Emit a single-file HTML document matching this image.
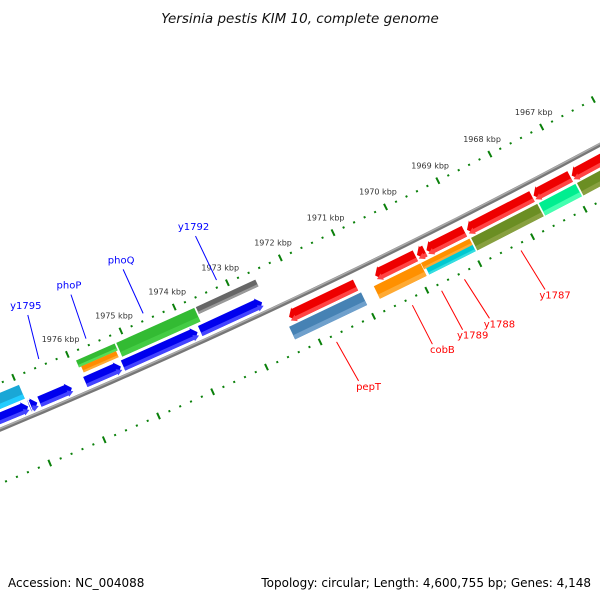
<!DOCTYPE html>
<html><head><meta charset="utf-8"><style>
html,body{margin:0;padding:0;background:#fff}
svg{display:block}
text{font-family:"DejaVu Sans","Liberation Sans",sans-serif}
</style></head><body>
<svg id="chart" width="600" height="600" viewBox="0 0 600 600">
<text x="300" y="23" text-anchor="middle" font-size="13.5" font-style="italic" fill="#111">Yersinia pestis KIM 10, complete genome</text>
<g id="ticks"></g>
<g id="backbone"></g>
<g id="genes"></g>
<g id="labels"></g>
<text x="8" y="587" font-size="12" fill="#000">Accession: NC_004088</text>
<text x="591" y="587" font-size="12" fill="#000" text-anchor="end">Topology: circular; Length: 4,600,755 bp; Genes: 4,148</text>
</svg>
<script>
// ---- data ----
const tickLabelKbp = [1967,1968,1969,1970,1971,1972,1973,1974,1975,1976];
const geneNames  = ["g-left1","y1795","g-small","g-b3","g-b4","g-b5","g-b6","g-cyan","phoP","phoP-o","phoQ","y1792",
                    "pepT","g-r2","g-r3","g-r4","g-r5","g-r6","g-r7","g-steel","cobB","y1788","y1789","y1787","g-spring","g-olive2"];
const geneStart  = [1978.2,1976.93,1976.95,1976.77,1975.92,1975.22,1973.78,1978.2,1975.92,1975.88,1975.17,1973.68,
                    1972.31,1970.69,1969.9,1969.72,1968.95,1967.68,1966.95,1972.38,1970.79,1969.9,1969.86,1968.95,1967.66,1966.93];
const geneEnd    = [1976.95,1976.78,1976.93,1976.14,1975.23,1973.8,1972.59,1976.95,1975.17,1975.2,1973.68,1972.53,
                    1971.03,1969.9,1969.72,1968.97,1967.68,1966.95,1965.4,1971.0,1969.88,1968.95,1968.95,1967.66,1966.93,1965.4];
const geneStrand = [1,1,1,1,1,1,1,1,1,1,1,1, -1,-1,-1,-1,-1,-1,-1,-1,-1,-1,-1,-1,-1,-1];
const geneArrow  = [1,1,1,1,1,1,1,0,0,0,0,0, 1,1,1,1,1,1,1,0,0,0,0,0,0,0];
const geneTrack  = ["f1","f1","f1","f1","f1","f1","f1","f2","f2a","f2b","f2","f2a",
                    "r1","r1","r1","r1","r1","r1","r1","r2","r2","r2a","r2b","r2","r2","r2"];
const geneColor  = ["#0000ee","#0000ee","#0000ee","#0000ee","#0000ee","#0000ee","#0000ee","#1aa7d6","#33bb33","#ff8c00","#33bb33","#666666",
                    "#ee0000","#ee0000","#ee0000","#ee0000","#ee0000","#ee0000","#ee0000","#4682b4","#ff9000","#ff9000","#00c8d0","#6b8e23","#00ee90","#6b8e23"];
const geneLight  = ["#4444ff","#4444ff","#4444ff","#4444ff","#4444ff","#4444ff","#4444ff","#22ccff","#55dd55","#ffaa33","#44cc44","#999999",
                    "#ff4444","#ff4444","#ff4444","#ff4444","#ff4444","#ff4444","#ff4444","#6fa0cc","#ffaa33","#ffaa33","#33dde0","#88a040","#44ffb0","#88a040"];
const labelNames = ["y1795","phoP","phoQ","y1792","pepT","cobB","y1789","y1788","y1787"];
const labelKbp   = [1976.48,1975.6,1974.53,1973.15,1971.75,1970.33,1969.78,1969.35,1968.28];
const labelStrand= [1,1,1,1,-1,-1,-1,-1,-1];
const tickStart = 1965, tickEnd = 1979;

// ---- layout (label leader-line lean, px) ----
const labelLean = [-11,-15,-20,-21,22,20,21,25,24];

// ---- geometry ----
const CX=-2618, CY=-5857, R=6810, A0=66.62, DEG=0.495;
const trackV = {f1:[-16,-5], f2:[-34,-19], f2a:[-34,-26.5], f2b:[-26.5,-20],
                r1:[8,20], r2:[23,37], r2a:[23,30], r2b:[30,37]};
function P(k,v){const a=(A0+(k-1976)*DEG)*Math.PI/180, r=R+v;return [CX+r*Math.cos(a),CY+r*Math.sin(a)];}
function pts(list){return list.map(p=>p[0].toFixed(2)+","+p[1].toFixed(2)).join(" ");}
const NS="http://www.w3.org/2000/svg";
function el(tag,attrs,parent){const e=document.createElementNS(NS,tag);for(const k in attrs)e.setAttribute(k,attrs[k]);parent.appendChild(e);return e;}

// ticks
const tg=document.getElementById("ticks");
for(let i=0;i<=Math.round((tickEnd-tickStart)*5);i++){
  const k=tickStart+i*0.2, major=Math.abs(k-Math.round(k))<1e-6;
  [-43,50].forEach(v=>{
    const a=major?P(k,v-3.5):P(k,v-1), b=major?P(k,v+3.5):P(k,v+1);
    const t=el("line",{x1:a[0],y1:a[1],x2:b[0],y2:b[1],stroke:"#0a800a","stroke-width":2},tg);
    
    
  });
}
tickLabelKbp.forEach(k=>{
  const p=P(k,-60);
  const t=el("text",{x:p[0],y:p[1]+3,"text-anchor":"middle","font-size":"8",fill:"#333"},tg);
  t.textContent=k+" kbp";
  
  
});

// backbone
const bb=document.getElementById("backbone");
function arcPath(v){const s=[];for(let k=tickStart;k<=tickEnd;k+=0.25)s.push(P(k,v));return "M"+s.map(p=>p[0].toFixed(2)+","+p[1].toFixed(2)).join(" L");}
let b1=el("path",{d:arcPath(0),stroke:"#777",fill:"none","stroke-width":4},bb);


let b2=el("path",{d:arcPath(-1),stroke:"#aaa",fill:"none","stroke-width":1.5},bb);



// genes
const gg=document.getElementById("genes");
function shape(s,e,v0,v1,arrow,strand){
  const H=0.1, vm=(v0+v1)/2;
  if(!arrow) return [P(s,v0),P(e,v0),P(e,v1),P(s,v1)];
  const hb=Math.min(H,(s-e)*0.9);
  if(strand>0){
    return [P(s,v0),P(e+hb,v0),P(e+hb,v0-1.5),P(e,vm),P(e+hb,v1+1.5),P(e+hb,v1),P(s,v1)];
  } else {
    return [P(s-hb,v0),P(e,v0),P(e,v1),P(s-hb,v1),P(s-hb,v1+1.5),P(s,vm),P(s-hb,v0-1.5)];
  }
}
geneNames.forEach((n,i)=>{
  const [v0,v1]=trackV[geneTrack[i]];
  const s=geneStart[i]-0.015, e=geneEnd[i]+0.015;
  const g=el("g",{},gg);
  
  
  el("polygon",{points:pts(shape(s,e,v0,v1,geneArrow[i],geneStrand[i])),fill:geneColor[i]},g);
  const vl=v1-(v1-v0)*0.33;
  el("polygon",{points:pts(shape(s,e,vl,v1,geneArrow[i],geneStrand[i])),fill:geneLight[i]},g);
});

// labels
const lg=document.getElementById("labels");
labelNames.forEach((n,i)=>{
  const fwd=labelStrand[i]>0, col=fwd?"#0000ff":"#ff0000";
  const k=labelKbp[i], dx=labelLean[i];
  const a=fwd?P(k,-50):P(k,57);
  const b=fwd?[a[0]+dx,a[1]-44]:[a[0]+dx,a[1]+39];
  const tp=fwd?[b[0]-2,b[1]-6]:[b[0]+10,b[1]+9];
  const l=el("line",{x1:a[0],y1:a[1],x2:b[0],y2:b[1],stroke:col,"stroke-width":1},lg);
  
  
  const t=el("text",{x:tp[0],y:tp[1],"text-anchor":"middle","font-size":"10",fill:col},lg);
  t.textContent=n;
  
  
});
</script>
</body></html>
